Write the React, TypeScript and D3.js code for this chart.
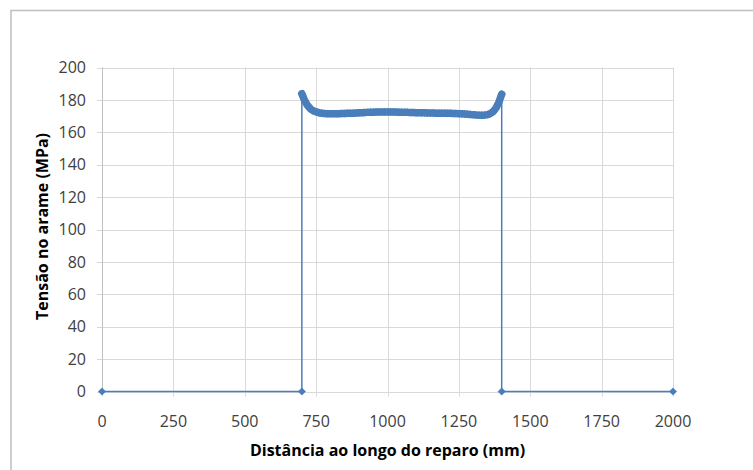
import React from "react";
import * as d3 from "d3";

// distance along the repair (mm) and wire stress (MPa)
const baseDist = [0, 700];
const baseStress = [0, 0];

const curveDist = [
  700, 710, 720, 730, 740, 750, 760, 770, 780, 790, 800, 810, 820, 830, 840, 850, 860, 870, 880, 890,
  900, 910, 920, 930, 940, 950, 960, 970, 980, 990, 1000, 1010, 1020, 1030, 1040, 1050, 1060, 1070, 1080, 1090,
  1100, 1110, 1120, 1130, 1140, 1150, 1160, 1170, 1180, 1190, 1200, 1210, 1220, 1230, 1240, 1250, 1260, 1270, 1280, 1290,
  1300, 1310, 1320, 1330, 1340, 1350, 1360, 1370, 1380, 1390, 1400,
];
const curveStress = [
  183.8, 179.5, 176.5, 174.5, 173.3, 172.6, 172.1, 171.8, 171.6, 171.5, 171.5, 171.5, 171.5, 171.5, 171.6, 171.6, 171.7, 171.7, 171.8, 171.9,
  172.0, 172.1, 172.2, 172.3, 172.4, 172.4, 172.5, 172.5, 172.6, 172.6, 172.6, 172.6, 172.5, 172.5, 172.4, 172.4, 172.3, 172.3, 172.2, 172.2,
  172.1, 172.1, 172.0, 172.0, 171.9, 171.9, 171.9, 171.8, 171.8, 171.8, 171.8, 171.7, 171.7, 171.6, 171.6, 171.5, 171.4, 171.3, 171.2, 171.0,
  170.9, 170.7, 170.6, 170.5, 170.6, 170.9, 171.6, 172.8, 175.0, 178.5, 183.5,
];
const endDist = [1400, 2000];
const endStress = [0, 0];

const xTicks = [0, 250, 500, 750, 1000, 1250, 1500, 1750, 2000];
const yTicks = [0, 20, 40, 60, 80, 100, 120, 140, 160, 180, 200];

const xTitle = "Distância ao longo do reparo (mm)";
const yTitle = "Tensão no arame (MPa)";

const W = 753;
const H = 470;
const plot = { left: 102, right: 673, top: 67.5, bottom: 391.5 };
const blue = "#4a7ebb";
const font = "'Open Sans', 'Liberation Sans', sans-serif";

type Pt = { d: number; s: number };

export default function App() {
  const x = d3.scaleLinear().domain([0, 2000]).range([plot.left, plot.right]);
  const y = d3.scaleLinear().domain([0, 200]).range([plot.bottom, plot.top]);

  const curve: Pt[] = curveDist.map((d, i) => ({ d, s: curveStress[i] }));
  const points: Pt[] = [
    ...baseDist.map((d, i) => ({ d, s: baseStress[i] })),
    ...curve,
    ...endDist.map((d, i) => ({ d, s: endStress[i] })),
  ];

  const line = d3
    .line<Pt>()
    .x((p) => x(p.d))
    .y((p) => y(p.s));

  const r = 3.6;
  const diamond = `M0,${-r}L${r},0L0,${r}L${-r},0Z`;

  return (
    <svg
      width={W}
      height={H}
      style={{ position: "absolute", left: 0, top: 0, background: "#fff" }}
      fontFamily={font}
    >
      {/* chart frame */}
      <rect x={11} y={10.5} width={W + 20} height={H + 20} fill="#fff" stroke="#bfbfbf" strokeWidth={1.5} />

      {/* grid */}
      {yTicks.map((t) => (
        <line
          key={"gy" + t}
          x1={plot.left - 5}
          x2={plot.right}
          y1={Math.round(y(t)) + 0.5}
          y2={Math.round(y(t)) + 0.5}
          stroke="#d9d9d9"
        />
      ))}
      {xTicks.map((t) => (
        <line
          key={"gx" + t}
          x1={Math.round(x(t)) + 0.5}
          x2={Math.round(x(t)) + 0.5}
          y1={plot.top}
          y2={plot.bottom + 5}
          stroke="#d9d9d9"
        />
      ))}
      <line x1={plot.left + 0.5} x2={plot.left + 0.5} y1={plot.top} y2={plot.bottom} stroke="#bfbfbf" />

      {/* tick labels */}
      {yTicks.map((t) => (
        <text
          key={"ly" + t}
          x={86}
          y={y(t)}
          dy="0.36em"
          textAnchor="end"
          fontSize={16}
          fill="#404040"
        >
          {t}
        </text>
      ))}
      {xTicks.map((t) => (
        <text key={"lx" + t} x={x(t)} y={427} textAnchor="middle" fontSize={16} fill="#404040">
          {t}
        </text>
      ))}

      {/* axis titles */}
      <text x={(plot.left + plot.right) / 2} y={456} textAnchor="middle" fontSize={16} fontWeight="bold" fill="#000">
        {xTitle}
      </text>
      <text
        transform={`translate(48,${(plot.top + plot.bottom) / 2 - 3}) rotate(-90)`}
        textAnchor="middle"
        fontSize={16}
        fontWeight="bold"
        fill="#000"
      >
        {yTitle}
      </text>

      {/* series */}
      <path d={line(points) ?? ""} fill="none" stroke={blue} strokeWidth={1.5} />
      {/* overlapping markers along the dense part form a thick band */}
      <path
        d={line(curve) ?? ""}
        fill="none"
        stroke={blue}
        strokeWidth={7.5}
        strokeLinejoin="round"
        strokeLinecap="round"
      />
      {points.map((p, i) => (
        <path
          key={"m" + i}
          d={diamond}
          transform={`translate(${x(p.d)},${y(p.s)})`}
          fill={blue}
          stroke={blue}
          strokeWidth={0.75}
        />
      ))}
    </svg>
  );
}
